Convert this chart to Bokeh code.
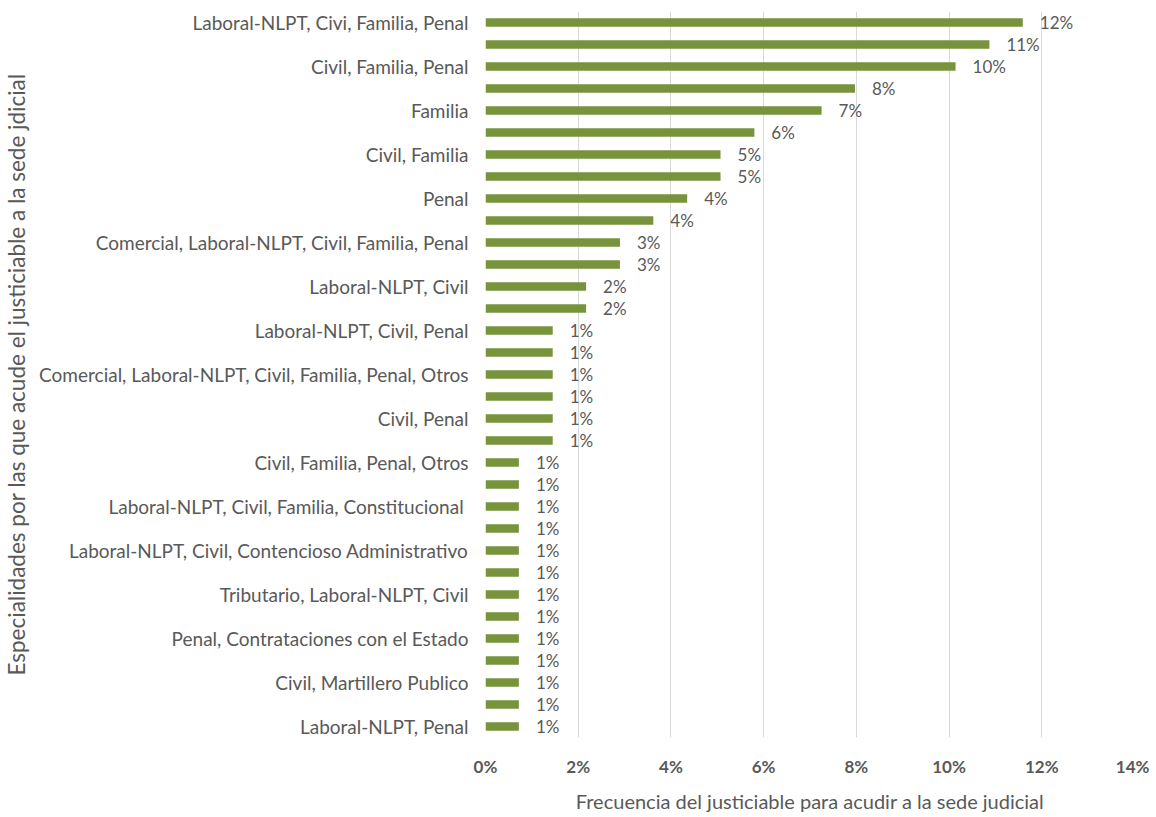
from bokeh.plotting import figure
from bokeh.models import ColumnDataSource, FixedTicker, NumeralTickFormatter, Range1d
from bokeh.core.properties import value
from bokeh.embed import file_html
from bokeh.resources import INLINE

categories = [
    "Laboral-NLPT, Civi, Familia, Penal", "",
    "Civil, Familia, Penal", "",
    "Familia", "",
    "Civil, Familia", "",
    "Penal", "",
    "Comercial, Laboral-NLPT, Civil, Familia, Penal", "",
    "Laboral-NLPT, Civil", "",
    "Laboral-NLPT, Civil, Penal", "",
    "Comercial, Laboral-NLPT, Civil, Familia, Penal, Otros", "",
    "Civil, Penal", "",
    "Civil, Familia, Penal, Otros", "",
    "Laboral-NLPT, Civil, Familia, Constitucional ", "",
    "Laboral-NLPT, Civil, Contencioso Administrativo", "",
    "Tributario, Laboral-NLPT, Civil", "",
    "Penal, Contrataciones con el Estado", "",
    "Civil, Martillero Publico", "",
    "Laboral-NLPT, Penal",
]
values = [0.1159, 0.1087, 0.1014, 0.0797, 0.0725, 0.0580, 0.0507, 0.0507,
          0.0435, 0.0362, 0.0290, 0.0290, 0.0217, 0.0217,
          0.0145, 0.0145, 0.0145, 0.0145, 0.0145, 0.0145,
          0.0072, 0.0072, 0.0072, 0.0072, 0.0072, 0.0072, 0.0072,
          0.0072, 0.0072, 0.0072, 0.0072, 0.0072, 0.0072]
value_labels = ["12%", "11%", "10%", "8%", "7%", "6%", "5%", "5%", "4%", "4%",
                "3%", "3%", "2%", "2%", "1%", "1%", "1%", "1%", "1%", "1%",
                "1%", "1%", "1%", "1%", "1%", "1%", "1%", "1%", "1%", "1%",
                "1%", "1%", "1%"]
x_ticks = [0, 0.02, 0.04, 0.06, 0.08, 0.10, 0.12, 0.14]

n = len(categories)
pos = list(range(1, n + 1))
src = ColumnDataSource(dict(y=pos, v=values, lab=value_labels))

FONT = "Lato"
GRAY = "#595959"

p = figure(frame_width=649, frame_height=726, output_backend="svg",
           toolbar_location=None,
           x_range=Range1d(0, 0.14), y_range=Range1d(n + 0.5, 0.5),
           min_border_left=476, min_border_top=11, min_border_bottom=40,
           min_border_right=15)
p.outline_line_color = None
p.background_fill_color = "white"

p.hbar(y="y", right="v", left=0, height=0.38, source=src,
       fill_color="#77933C", line_color=None)
p.text(x="v", y="y", text="lab", source=src, x_offset=17,
       text_align="left", text_baseline="middle", text_color=GRAY,
       text_font=value(FONT), text_font_size="17px")

p.xaxis.ticker = FixedTicker(ticks=x_ticks)
p.xaxis.formatter = NumeralTickFormatter(format="0%")
p.xaxis.axis_line_color = None
p.xaxis.major_tick_line_color = None
p.xaxis.minor_tick_line_color = None
p.xaxis.major_label_text_font = FONT
p.xaxis.major_label_text_font_size = "17px"
p.xaxis.major_label_text_font_style = "bold"
p.xaxis.major_label_text_color = GRAY
p.xaxis.major_label_standoff = 12
p.xaxis.axis_label = "Frecuencia del justiciable para acudir a la sede judicial"
p.xaxis.axis_label_text_font = FONT
p.xaxis.axis_label_text_font_size = "20px"
p.xaxis.axis_label_text_font_style = "normal"
p.xaxis.axis_label_text_color = GRAY
p.xaxis.axis_label_standoff = 9

p.yaxis.ticker = FixedTicker(ticks=[i for i in pos if categories[i - 1]])
p.yaxis.major_label_overrides = {i: c for i, c in zip(pos, categories) if c}
p.yaxis.axis_line_color = None
p.yaxis.major_tick_line_color = None
p.yaxis.minor_tick_line_color = None
p.yaxis.major_label_text_font = FONT
p.yaxis.major_label_text_font_size = "19px"
p.yaxis.major_label_text_color = GRAY
p.yaxis.major_label_standoff = 11
p.yaxis.axis_label = "Especialidades por las que acude el justiciable a la sede jdicial"
p.yaxis.axis_label_text_font = FONT
p.yaxis.axis_label_text_font_size = "22.5px"
p.yaxis.axis_label_text_font_style = "normal"
p.yaxis.axis_label_text_color = GRAY
p.yaxis.axis_label_standoff = 6

p.xgrid.ticker = FixedTicker(ticks=x_ticks)
p.xgrid.grid_line_color = "#d9d9d9"
p.ygrid.grid_line_color = None

open("out.html", "w").write(file_html(p, INLINE))
